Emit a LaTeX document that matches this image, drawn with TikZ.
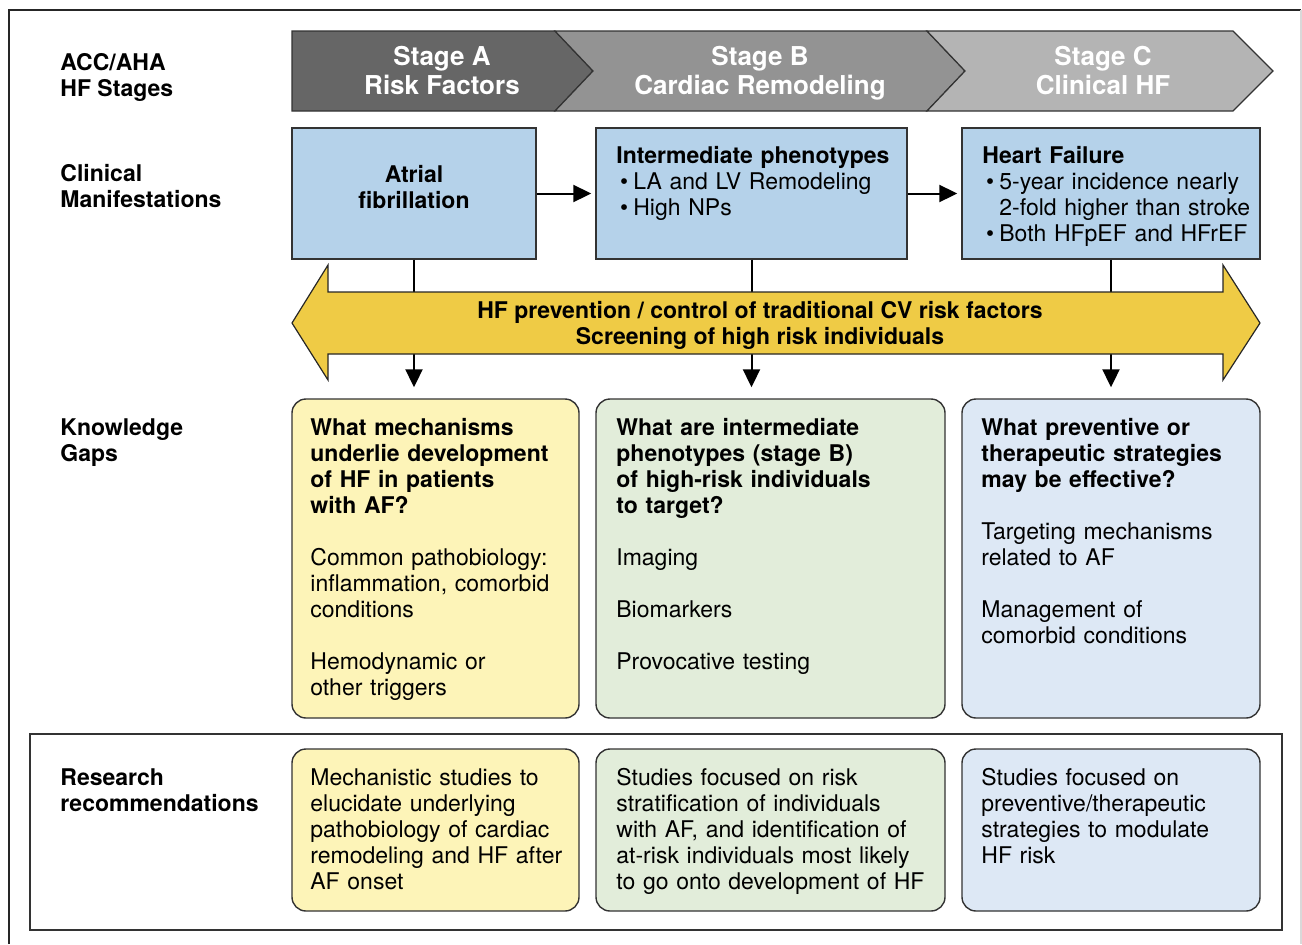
\documentclass[tikz,border=0pt]{standalone}
\usepackage{fontspec}
\setmainfont{TeX Gyre Heros}
\usetikzlibrary{arrows.meta}

\definecolor{stageA}{HTML}{666666}
\definecolor{stageB}{HTML}{939393}
\definecolor{stageC}{HTML}{B4B4B4}
\definecolor{clinblue}{HTML}{B5D2EA}
\definecolor{bandyellow}{HTML}{EFCB45}
\definecolor{gapyellow}{HTML}{FDF4B8}
\definecolor{gapgreen}{HTML}{E2EDDA}
\definecolor{gapblue}{HTML}{DDE8F5}
\definecolor{edgegray}{HTML}{333333}

\newcommand{\itembul}{\makebox[8.5pt][l]{\hspace{1.8pt}\textbullet}}

\begin{document}
\begin{tikzpicture}[x=0.5pt,y=-0.5pt,
  rowlabel/.style={anchor=north west,inner sep=0pt,align=left,
    font=\bfseries\fontsize{11.5}{13}\selectfont},
  stagetext/.style={inner sep=0pt,align=center,text=white,
    font=\bfseries\fontsize{13}{14.5}\selectfont},
  clinbox/.style={draw=edgegray,line width=0.7pt,fill=clinblue,inner sep=0pt},
  cliniclist/.style={anchor=north west,inner sep=0pt,text width=150pt,align=left,
    font=\fontsize{11.5}{13}\selectfont},
  gapbox/.style={draw=edgegray,line width=0.7pt,rounded corners=7pt,inner sep=0pt},
  gaptext/.style={anchor=north west,inner sep=0pt,text width=170pt,align=left,
    font=\fontsize{11.5}{13}\selectfont},
  flow/.style={line width=1pt,-{Triangle[length=9pt,width=8.5pt]}}]
\useasboundingbox (0,0) rectangle (1302,944);

% outer frame
\draw[line width=1pt,black!85] (9,944) -- (9,10) -- (1301,10);
\draw[line width=0.6pt,black!15] (1301,10) -- (1301,944);

% row labels
\node[rowlabel] (lblstages) at (60,53) {ACC/AHA\\HF Stages};
\node[rowlabel] (lblclinic) at (60,164) {Clinical\\Manifestations};
\node[rowlabel] (lblgaps) at (60,418) {Knowledge\\Gaps};
\node[rowlabel] (lblresearch) at (60,768) {Research\\recommendations};

% stage chevrons
\filldraw[fill=stageA,draw=edgegray,line width=0.6pt]
  (292,31) -- (555,31) -- (593,71) -- (555,111) -- (292,111) -- cycle;
\filldraw[fill=stageB,draw=edgegray,line width=0.6pt]
  (555,31) -- (927,31) -- (965,71) -- (927,111) -- (555,111) -- (593,71) -- cycle;
\filldraw[fill=stageC,draw=edgegray,line width=0.6pt]
  (927,31) -- (1233,31) -- (1273,71) -- (1233,111) -- (927,111) -- (965,71) -- cycle;
\node[stagetext] (stgA) at (442,74) {Stage A\strut\\Risk Factors\strut};
\node[stagetext] (stgB) at (760,74) {Stage B\strut\\Cardiac Remodeling\strut};
\node[stagetext] (stgC) at (1103,74) {Stage C\strut\\Clinical HF\strut};

% clinical manifestations
\node[clinbox,minimum width=122pt,minimum height=65.5pt] (afib) at (414,193.5) {};
\node[clinbox,minimum width=155.5pt,minimum height=65.5pt] (interm) at (751.5,193.5) {};
\node[clinbox,minimum width=149pt,minimum height=65.5pt] (hf) at (1111,193.5) {};
\node[inner sep=0pt,align=center,font=\bfseries\fontsize{11.5}{13}\selectfont] (afibtext)
  at (414,187) {Atrial\\fibrillation};
\node[cliniclist] (intermtext) at (616,146)
  {\textbf{Intermediate phenotypes}\\
   \itembul LA and LV Remodeling\\
   \itembul High NPs};
\node[cliniclist] (hftext) at (982,146)
  {\textbf{Heart Failure}\\
   \itembul 5-year incidence nearly\\
   \hspace*{8.5pt}2-fold higher than stroke\\
   \itembul Both HFpEF and HFrEF};
\draw[flow,shorten >=2pt] (afib) -- (interm);
\draw[flow,shorten >=2pt] (interm.east |- afib) -- (hf.west |- afib);

% knowledge gaps
\node[gapbox,fill=gapyellow,minimum width=143.5pt,minimum height=159.5pt] (gapA) at (435.5,558.5) {};
\node[gapbox,fill=gapgreen,minimum width=174.5pt,minimum height=159.5pt] (gapB) at (770.5,558.5) {};
\node[gapbox,fill=gapblue,minimum width=149pt,minimum height=159.5pt] (gapC) at (1111,558.5) {};

\draw[flow,shorten >=5.5pt] (afib.south) -- (afib.south |- gapA.north);
\draw[flow,shorten >=5.5pt] (interm.south) -- (interm.south |- gapB.north);
\draw[flow,shorten >=5.5pt] (hf.south) -- (hf.south |- gapC.north);

% prevention band
\filldraw[fill=bandyellow,draw=black!85,line width=0.6pt]
  (292,323) -- (328,265) -- (328,292) -- (1223,292) -- (1223,265) -- (1260,323)
  -- (1223,380) -- (1223,354) -- (328,354) -- (328,380) -- cycle;
\node[inner sep=0pt,align=center,font=\bfseries\fontsize{11.5}{13}\selectfont] (band) at (760,325)
  {HF prevention / control of traditional CV risk factors\\Screening of high risk individuals};

\node[gaptext] (gapAtext) at (310,418)
  {\textbf{What mechanisms\\underlie development\\of HF in patients\\with AF?}\\[13pt]
   Common pathobiology:\\inflammation, comorbid\\conditions\\[13pt]
   Hemodynamic or\\other triggers};
\node[gaptext] (gapBtext) at (616,418)
  {\textbf{What are intermediate\\phenotypes (stage B)\\of high-risk individuals\\to target?}\\[13pt]
   Imaging\\[13pt]
   Biomarkers\\[13pt]
   Provocative testing};
\node[gaptext] (gapCtext) at (981,418)
  {\textbf{What preventive or\\therapeutic strategies\\may be effective?}\\[13pt]
   Targeting mechanisms\\related to AF\\[13pt]
   Management of\\comorbid conditions};

% research recommendations
\draw[line width=0.8pt,edgegray] (30,734) rectangle (1282,930);
\node[gapbox,fill=gapyellow,minimum width=143.5pt,minimum height=81pt] (resA) at (435.5,830) {};
\node[gapbox,fill=gapgreen,minimum width=174.5pt,minimum height=81pt] (resB) at (770.5,830) {};
\node[gapbox,fill=gapblue,minimum width=149pt,minimum height=81pt] (resC) at (1111,830) {};
\node[gaptext] (resAtext) at (310,768)
  {Mechanistic studies to\\elucidate underlying\\pathobiology of cardiac\\remodeling and HF after\\AF onset};
\node[gaptext] (resBtext) at (616,768)
  {Studies focused on risk\\stratification of individuals\\with AF, and identification of\\at-risk individuals most likely\\to go onto development of HF};
\node[gaptext] (resCtext) at (981,768)
  {Studies focused on\\preventive/therapeutic\\strategies to modulate\\HF risk};
\end{tikzpicture}
\end{document}
